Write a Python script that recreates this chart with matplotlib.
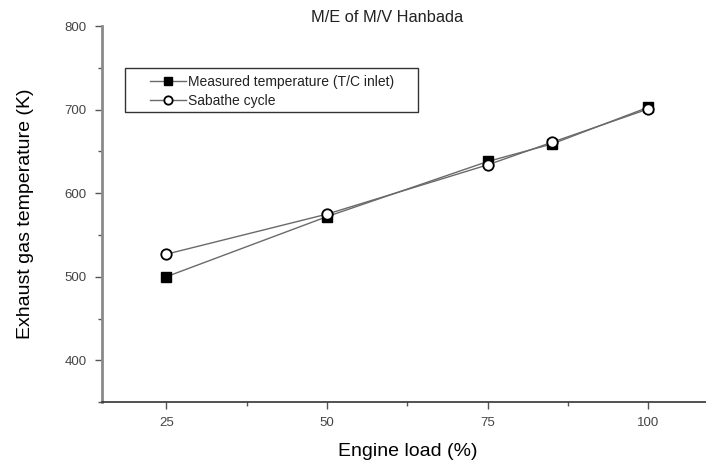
import matplotlib
matplotlib.use("Agg")
import matplotlib.pyplot as plt
from matplotlib.patches import Rectangle
from matplotlib.ticker import MultipleLocator

plt.rcParams["font.family"] = ["Liberation Sans", "DejaVu Sans"]

# engine load (%) and exhaust gas temperature (K)
load = [25, 50, 75, 85, 100]
measured = [500, 572, 638, 659, 703]
sabathe = [527, 575, 634, 661, 701]

fig = plt.figure(figsize=(7.06, 4.68), dpi=100)
ax = fig.add_axes([0.1445, 0.141, 0.865, 0.803])

ax.plot(load, measured, color="#6a6a6a", linewidth=1.0, marker="s",
        markersize=7, markerfacecolor="black", markeredgecolor="black",
        label="Measured temperature (T/C inlet)")
ax.plot(load, sabathe, color="#6a6a6a", linewidth=1.0, marker="o",
        markersize=7.5, markerfacecolor="white", markeredgecolor="black",
        markeredgewidth=1.3, label="Sabathe cycle")

ax.set_xlim(15, 110)
ax.set_ylim(350, 800)
ax.xaxis.set_minor_locator(MultipleLocator(12.5))
ax.yaxis.set_minor_locator(MultipleLocator(50))
ax.set_xticks([25, 50, 75, 100])
ax.set_yticks([400, 500, 600, 700, 800])

for side in ("top", "right"):
    ax.spines[side].set_visible(False)
ax.spines["left"].set_color("#8a8a8a")
ax.spines["left"].set_linewidth(2.0)
ax.spines["bottom"].set_color("#333333")
ax.spines["bottom"].set_linewidth(1.2)

ax.tick_params(which="major", direction="out", length=5, width=1.0,
               colors="#555555", labelsize=9.5, labelcolor="#444444", pad=6)
ax.tick_params(which="minor", direction="out", length=3, width=1.0,
               colors="#555555")

ax.set_xlabel("Engine load (%)", fontsize=14, labelpad=10)
ax.set_ylabel("Exhaust gas temperature (K)", fontsize=14, labelpad=22)
fig.text(0.548, 0.963, "M/E of M/V Hanbada", ha="center", va="center",
         fontsize=11.8, color="#222222")

# legend entries without their own frame; the box is drawn separately
leg = ax.legend(loc="upper left", bbox_to_anchor=(150 / 706, 1 - 75 / 468),
                bbox_transform=fig.transFigure, fontsize=10, frameon=False,
                borderpad=0, borderaxespad=0, handlelength=2.6,
                handletextpad=0.15, labelspacing=0.38)
for h in leg.legend_handles:
    h.set_markersize(6)
for t in leg.get_texts():
    t.set_color("#222222")
fig.add_artist(Rectangle((125 / 706, 1 - 112 / 468), 293 / 706, 44 / 468,
                         transform=fig.transFigure, fill=False,
                         edgecolor="#333333", linewidth=1.0))

fig.savefig("out.png", dpi=100)
